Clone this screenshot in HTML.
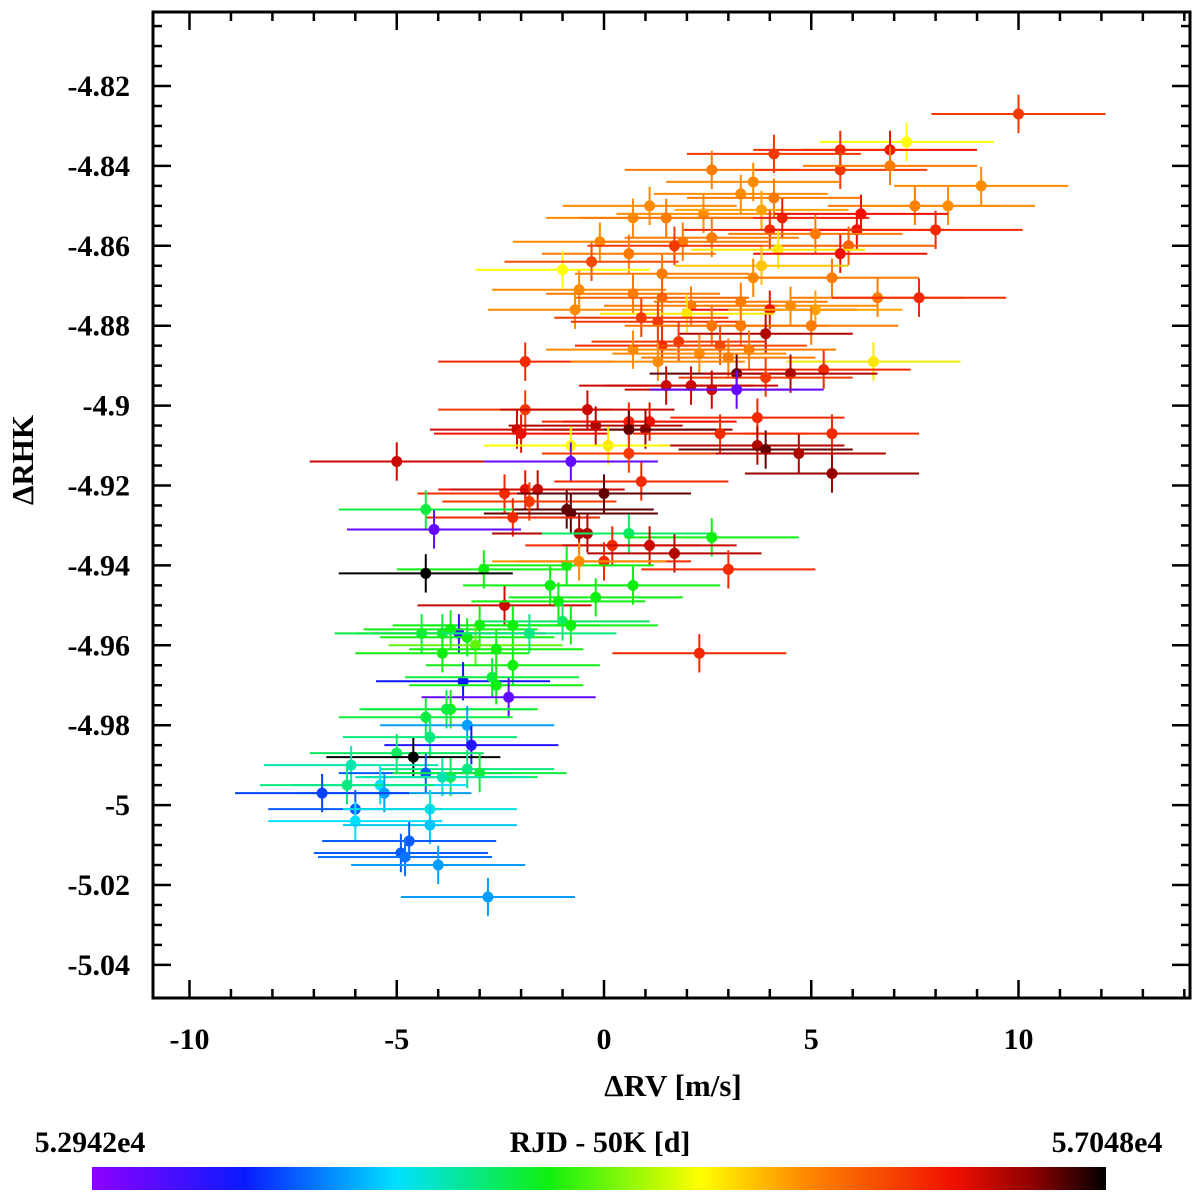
<!DOCTYPE html>
<html><head><meta charset="utf-8">
<style>
body{margin:0;background:#fff;}
svg text{font-family:"Liberation Serif",serif;font-weight:bold;fill:#000;}
</style></head>
<body>
<svg id="chart" width="1200" height="1196" xmlns="http://www.w3.org/2000/svg">
<defs>
<linearGradient id="cb" x1="0" x2="1" y1="0" y2="0">
<stop offset="0" stop-color="#8f00ff"/><stop offset="0.15" stop-color="#0a1aff"/>
<stop offset="0.3" stop-color="#00e0ff"/><stop offset="0.45" stop-color="#10f010"/>
<stop offset="0.6" stop-color="#ffff00"/><stop offset="0.7" stop-color="#ff8c00"/>
<stop offset="0.85" stop-color="#f01000"/><stop offset="0.93" stop-color="#8a0000"/>
<stop offset="1" stop-color="#000000"/>
</linearGradient>
</defs>
<g id="marks"></g>
<g id="axes"></g>
<text x="673" y="1096" font-size="31" text-anchor="middle">ΔRV [m/s]</text>
<text transform="translate(33,460) rotate(-90)" font-size="31" text-anchor="middle">ΔRHK</text>
<text x="90" y="1152" font-size="30" text-anchor="middle">5.2942e4</text>
<text x="600" y="1152" font-size="30" text-anchor="middle">RJD - 50K [d]</text>
<text x="1107" y="1152" font-size="30" text-anchor="middle">5.7048e4</text>
<rect x="92" y="1167" width="1014" height="23" fill="url(#cb)"/>
</svg>
<script>
const xs=[10.0,7.3,6.9,5.7,4.1,2.6,5.7,3.6,3.3,4.1,9.1,6.9,7.5,8.3,1.1,2.4,0.7,3.8,4.3,6.2,1.5,4.0,6.1,8.0,5.1,2.6,-0.1,1.9,1.7,5.9,4.2,0.6,5.7,-1.0,-0.3,3.8,1.4,3.6,5.5,-0.6,0.7,1.4,3.3,6.6,4.5,2.1,4.0,5.1,2.0,-0.7,7.6,0.9,1.3,5.0,2.6,3.3,3.9,1.8,1.4,0.7,2.8,3.5,2.3,3.0,-1.9,1.3,6.5,5.3,3.2,4.5,3.9,1.5,2.1,2.6,3.2,-1.9,-0.4,0.6,3.7,-0.2,1.1,1.0,0.6,-2.1,-2.0,2.8,5.5,0.1,-0.8,3.7,3.9,4.7,-5.0,-0.8,0.6,5.5,0.9,-2.4,-1.9,-1.6,-0.9,-1.8,0.0,-0.8,-2.2,-4.3,-4.1,-0.6,-0.4,0.6,2.6,0.2,1.1,1.7,0.0,-0.9,-0.6,-2.9,-4.3,3.0,-1.3,0.7,-0.2,-2.4,-1.1,-1.0,-0.8,-2.2,-3.0,-3.5,-4.4,-3.9,-3.7,-3.3,-3.1,-1.8,-2.6,-3.9,2.3,-2.2,-3.4,-2.7,-2.6,-2.3,-3.7,-3.8,-4.3,-3.3,-4.2,-3.2,-5.0,-4.6,-6.1,-3.3,-4.3,-3.7,-3.0,-3.9,-5.4,-6.2,-5.3,-6.8,-6.0,-4.2,-6.0,-4.2,-4.7,-4.9,-4.8,-4.0,-2.8];
const ys=[-4.827,-4.834,-4.836,-4.836,-4.837,-4.841,-4.841,-4.844,-4.847,-4.848,-4.845,-4.840,-4.850,-4.850,-4.850,-4.852,-4.853,-4.851,-4.853,-4.852,-4.853,-4.856,-4.856,-4.856,-4.857,-4.858,-4.859,-4.859,-4.860,-4.860,-4.861,-4.862,-4.862,-4.866,-4.864,-4.865,-4.867,-4.868,-4.868,-4.871,-4.872,-4.873,-4.874,-4.873,-4.875,-4.875,-4.876,-4.876,-4.877,-4.876,-4.873,-4.878,-4.879,-4.880,-4.880,-4.880,-4.882,-4.884,-4.885,-4.886,-4.885,-4.886,-4.887,-4.888,-4.889,-4.889,-4.889,-4.891,-4.892,-4.892,-4.893,-4.895,-4.895,-4.896,-4.896,-4.901,-4.901,-4.904,-4.903,-4.905,-4.904,-4.906,-4.906,-4.906,-4.907,-4.907,-4.907,-4.910,-4.910,-4.910,-4.911,-4.912,-4.914,-4.914,-4.912,-4.917,-4.919,-4.922,-4.921,-4.921,-4.926,-4.924,-4.922,-4.927,-4.928,-4.926,-4.931,-4.932,-4.932,-4.932,-4.933,-4.935,-4.935,-4.937,-4.939,-4.940,-4.939,-4.941,-4.942,-4.941,-4.945,-4.945,-4.948,-4.950,-4.949,-4.954,-4.955,-4.955,-4.955,-4.957,-4.957,-4.957,-4.956,-4.958,-4.960,-4.957,-4.961,-4.962,-4.962,-4.965,-4.969,-4.968,-4.970,-4.973,-4.976,-4.976,-4.978,-4.980,-4.983,-4.985,-4.987,-4.988,-4.990,-4.991,-4.992,-4.993,-4.992,-4.993,-4.995,-4.995,-4.997,-4.997,-5.001,-5.001,-5.004,-5.005,-5.009,-5.012,-5.013,-5.015,-5.023];
const ts=[.8,.6,.85,.82,.8,.72,.8,.7,.7,.72,.7,.72,.72,.7,.7,.7,.7,.68,.83,.85,.72,.82,.85,.82,.72,.72,.7,.72,.8,.75,.62,.72,.85,.6,.78,.65,.72,.7,.72,.7,.72,.75,.72,.72,.7,.72,.85,.68,.62,.7,.82,.8,.8,.72,.73,.72,.9,.8,.82,.7,.78,.72,.7,.72,.82,.7,.62,.82,.95,.9,.8,.88,.88,.88,.05,.8,.88,.82,.82,.9,.85,.92,.95,.88,.85,.82,.82,.62,.6,.9,.95,.9,.88,.05,.8,.92,.82,.82,.85,.88,.95,.8,.95,.95,.82,.42,.05,.9,.9,.4,.45,.82,.88,.9,.82,.45,.7,.45,1.0,.82,.45,.45,.45,.88,.45,.4,.45,.45,.45,.1,.42,.42,.45,.45,.5,.38,.45,.45,.82,.45,.15,.42,.45,.05,.45,.42,.42,.25,.38,.12,.4,1.0,.35,.38,.2,.4,.42,.35,.3,.38,.25,.18,.2,.32,.3,.28,.2,.2,.22,.25,.25];
const xerrs=xs.map(()=>2.1);
const yerrs=ys.map(()=>0.0048);
const xTicks=[-10,-5,0,5,10];
const yTicks=[-4.82,-4.84,-4.86,-4.88,-4.9,-4.92,-4.94,-4.96,-4.98,-5,-5.02,-5.04];

const X0=153,X1=1190,Y0=12,Y1=998;
function sx(v){return 604+v*41.45;}
function sy(v){return 86+(-4.82-v)*3995;}
const stops=[[0,[143,0,255]],[0.15,[10,26,255]],[0.3,[0,224,255]],[0.45,[16,240,16]],[0.6,[255,255,0]],[0.7,[255,140,0]],[0.85,[240,16,0]],[0.93,[138,0,0]],[1,[0,0,0]]];
function cmap(t){for(let i=1;i<stops.length;i++){if(t<=stops[i][0]){const a=stops[i-1],b=stops[i],f=(t-a[0])/(b[0]-a[0]);const c=a[1].map((v,k)=>Math.round(v+(b[1][k]-v)*f));return `rgb(${c})`;}}return 'rgb(0,0,0)';}
const NS="http://www.w3.org/2000/svg";
function mk(tag,attrs,parent){const e=document.createElementNS(NS,tag);for(const k in attrs)e.setAttribute(k,attrs[k]);parent.appendChild(e);return e;}
const marks=document.getElementById('marks');
for(let i=0;i<xs.length;i++){
  const g=mk('g',{},marks);
  
  
  const c=cmap(ts[i]);
  mk('line',{x1:sx(xs[i]-xerrs[i]),x2:sx(xs[i]+xerrs[i]),y1:sy(ys[i]),y2:sy(ys[i]),stroke:c,'stroke-width':2},g);
  mk('line',{x1:sx(xs[i]),x2:sx(xs[i]),y1:sy(ys[i]-yerrs[i]),y2:sy(ys[i]+yerrs[i]),stroke:c,'stroke-width':2},g);
  mk('circle',{cx:sx(xs[i]),cy:sy(ys[i]),r:5.5,fill:c},g);
}
const ax=document.getElementById('axes');
const fr=mk('rect',{x:X0,y:Y0,width:X1-X0,height:Y1-Y0,fill:'none',stroke:'#000','stroke-width':3},ax);


for(let v=-11;v<=14;v++){const x=sx(v);if(x<X0||x>X1)continue;const L=(v%5===0)?18:9;
  mk('line',{x1:x,x2:x,y1:Y1,y2:Y1-L,stroke:'#000','stroke-width':2.5},ax);
  mk('line',{x1:x,x2:x,y1:Y0,y2:Y0+L,stroke:'#000','stroke-width':2.5},ax);}
for(let k=0;k<=48;k++){const v=-4.80-k*0.005;const y=sy(v);if(y<Y0||y>Y1)continue;const L=(k%4===0)?18:9;
  mk('line',{x1:X0,x2:X0+L,y1:y,y2:y,stroke:'#000','stroke-width':2.5},ax);
  mk('line',{x1:X1,x2:X1-L,y1:y,y2:y,stroke:'#000','stroke-width':2.5},ax);}
xTicks.forEach(v=>{const t=mk('text',{x:sx(v),y:1049,'font-size':30,'text-anchor':'middle'},ax);t.textContent=String(v);
  
  });
yTicks.forEach(v=>{const t=mk('text',{x:130,y:sy(v)+10,'font-size':30,'text-anchor':'end'},ax);t.textContent=String(v);
  
  });
</script>
</body></html>
